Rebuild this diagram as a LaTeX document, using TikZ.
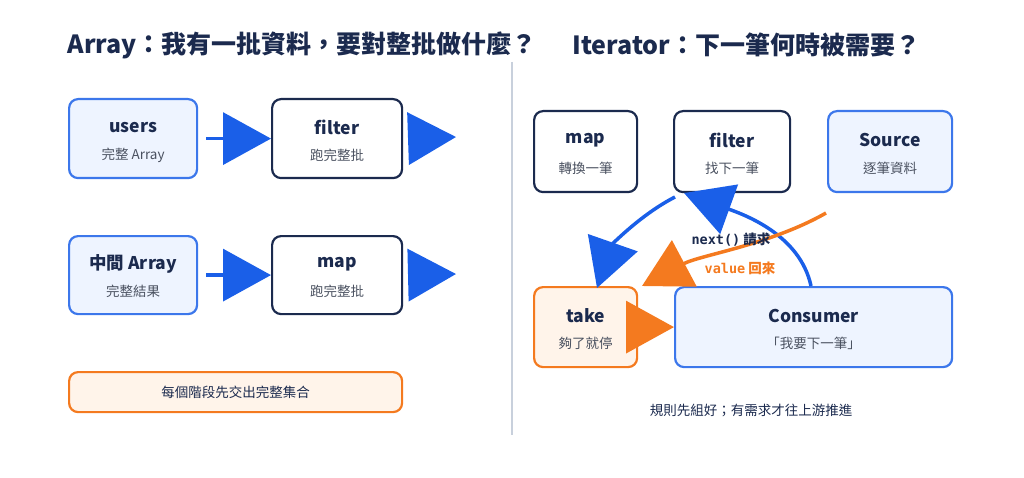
\documentclass[tikz,border=0pt]{standalone}
\usepackage{fontspec}
\setmainfont{Noto Sans CJK TC}
\newfontfamily\monof{DejaVu Sans Mono}
\usetikzlibrary{arrows.meta,calc}
\definecolor{navy}{HTML}{1B2A4E}
\definecolor{bblue}{HTML}{1A5FE8}
\definecolor{lblue}{HTML}{EEF4FF}
\definecolor{orng}{HTML}{F47A1F}
\definecolor{lorng}{HTML}{FFF4EA}
\definecolor{gtxt}{HTML}{4A5160}
\definecolor{divc}{HTML}{C8D0DC}
\tikzset{
 bx/.style={rounded corners=9pt,line width=2.2pt,draw=navy,fill=white,anchor=north west,inner sep=0pt},
 bluebx/.style={bx,draw=bblue!85,fill=lblue},
 orbx/.style={bx,draw=orng,fill=lorng},
 ttl/.style={font=\bfseries\fontsize{17.5}{20}\selectfont,text=navy},
 sub/.style={font=\fontsize{13.5}{16}\selectfont,text=gtxt},
 big/.style={line width=3.5pt,-{Triangle[length=48pt,width=52pt]}},
 bar/.style={big,draw=bblue,color=bblue},
 oar/.style={big,draw=orng,color=orng},
}
\newcommand{\bxnode}[8]{% style,name,x1,y1,x2,y2,title,sub
 \node[#1,minimum width=#5pt-#3pt,minimum height=#6pt-#4pt] (#2) at (#3,#4) {};
 \node[ttl] at ([yshift=-2pt]$(#2.center)!0.33!(#2.north)$) {#7};
 \node[sub] at ([yshift=-1pt]$(#2.center)!0.38!(#2.south)$) {#8};
}
\begin{document}
\begin{tikzpicture}[x=1pt,y=-1pt]
\useasboundingbox (0,0) rectangle (1024,478);
\node[anchor=west,font=\bfseries\fontsize{25}{30}\selectfont,text=navy] (t1) at (64,45) {Array：我有一批資料，要對整批做什麼？};
\node[anchor=west,font=\bfseries\fontsize{25}{30}\selectfont,text=navy] (t2) at (569,45) {Iterator：下一筆何時被需要？};
\draw[divc,line width=1.2pt] (512,62) coordinate (d1) -- (512,435) coordinate (d2);
% left
\bxnode{bluebx}{users}{68}{98}{196}{177}{users}{完整 Array}
\bxnode{bx}{filt}{271}{98}{401}{177}{filter}{跑完整批}
\bxnode{bluebx}{mid}{68}{235}{196}{313}{中間 Array}{完整結果}
\bxnode{bx}{mapl}{271}{235}{401}{313}{map}{跑完整批}
\coordinate (e1) at (456,137);
\coordinate (e2) at (456,274);
\draw[bar] ([xshift=8pt]users.east) -- (filt.west);
\draw[bar] ([xshift=5pt]filt.east) -- (e1);
\draw[bar] ([xshift=8pt]mid.east) -- (mapl.west);
\draw[bar] ([xshift=5pt]mapl.east) -- (e2);
\node[orbx,minimum width=333pt,minimum height=40pt] (note) at (68,371) {};
\node[sub,text=navy] at (note.center) {每個階段先交出完整集合};
% right
\bxnode{bx}{mapr}{533}{110}{636}{191}{map}{轉換一筆}
\bxnode{bx}{filr}{673}{110}{789}{191}{filter}{找下一筆}
\bxnode{bluebx}{src}{827}{110}{951}{191}{Source}{逐筆資料}
\bxnode{orbx}{take}{533}{286}{636}{366}{take}{夠了就停}
\bxnode{bluebx}{cons}{674}{286}{951}{366}{Consumer}{「我要下一筆」}
\draw[bar] (675,197) .. controls (640,215) and (612,245) .. (597,288);
\draw[bar] (811,286) .. controls (800,235) and (745,215) .. (684,193);
\coordinate (os) at (826,213);
\draw[oar] (os) .. controls (770,245) and (700,255) .. (642,286);
\draw[oar] (take.east) -- (cons.west);
\node[font=\bfseries\fontsize{13.5}{16}\selectfont,text=navy] (lb1) at (731,240) {{\monof\bfseries next()} 請求};
\node[font=\bfseries\fontsize{13.5}{16}\selectfont,text=orng] (lb2) at (740,268) {{\monof\bfseries value} 回來};
\node[sub,text=navy] (cap) at (751,410) {規則先組好；有需求才往上游推進};
\end{tikzpicture}
\end{document}
